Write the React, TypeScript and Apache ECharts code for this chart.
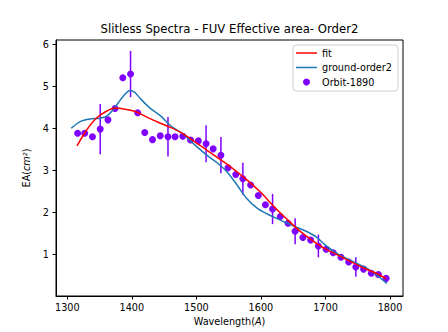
import React, { useEffect, useRef } from "react";
import * as echarts from "echarts";

const orbitX = [1316, 1327, 1339, 1351, 1363, 1374, 1386, 1398, 1409, 1420, 1432, 1444, 1456, 1467, 1479, 1491, 1503, 1515, 1526, 1538, 1549, 1561, 1572, 1584, 1596, 1607, 1618, 1630, 1642, 1653, 1665, 1677, 1689, 1701, 1712, 1724, 1736, 1747, 1759, 1771, 1782, 1794];
const orbitY = [3.88, 3.88, 3.80, 3.98, 4.20, 4.47, 5.20, 5.29, 4.37, 3.90, 3.73, 3.82, 3.80, 3.80, 3.81, 3.72, 3.70, 3.63, 3.51, 3.36, 3.06, 2.90, 2.80, 2.65, 2.40, 2.18, 2.08, 1.90, 1.74, 1.55, 1.40, 1.34, 1.20, 1.12, 1.04, 0.93, 0.82, 0.70, 0.65, 0.55, 0.52, 0.43];
const orbitErr = [0, 0, 0, 0.6, 0, 0, 0, 0.55, 0, 0, 0, 0, 0.47, 0, 0, 0, 0, 0.44, 0, 0.43, 0, 0, 0.38, 0, 0, 0, 0.36, 0, 0, 0.31, 0, 0, 0.27, 0, 0, 0, 0, 0.23, 0, 0, 0, 0];

const fitX = [1315, 1330, 1345, 1360, 1375, 1390, 1405, 1420, 1440, 1460, 1480, 1505, 1530, 1555, 1580, 1600, 1620, 1640, 1660, 1680, 1700, 1720, 1740, 1760, 1780, 1794];
const fitY = [3.58, 3.96, 4.24, 4.40, 4.48, 4.45, 4.40, 4.29, 4.15, 4.02, 3.86, 3.60, 3.33, 3.06, 2.75, 2.47, 2.14, 1.84, 1.56, 1.33, 1.13, 0.98, 0.82, 0.67, 0.54, 0.42];

const groundX = [1306, 1320, 1335, 1351, 1361, 1371, 1382, 1390, 1397, 1405, 1413, 1428, 1444, 1460, 1480, 1495, 1516, 1532, 1547, 1563, 1578, 1594, 1610, 1625, 1641, 1656, 1670, 1685, 1700, 1715, 1730, 1745, 1760, 1775, 1795];
const groundY = [4.00, 4.16, 4.22, 4.24, 4.29, 4.44, 4.67, 4.82, 4.90, 4.85, 4.71, 4.48, 4.30, 4.06, 3.86, 3.64, 3.36, 3.18, 2.97, 2.65, 2.33, 2.10, 1.96, 1.85, 1.74, 1.64, 1.55, 1.42, 1.22, 1.05, 0.92, 0.81, 0.70, 0.56, 0.31];

const xTicks = [1300, 1400, 1500, 1600, 1700, 1800];
const yTicks = [1, 2, 3, 4, 5, 6];

const FONT = "DejaVu Sans";
const PURPLE = "#7f00ff";
const LINE_ICON = "path://M0,0L42,0L42,3L0,3Z";

export default function App() {
  const ref = useRef<HTMLDivElement>(null);
  useEffect(() => {
    if (!ref.current) return;
    const chart = echarts.init(ref.current, undefined, { renderer: "svg" });
    const zip = (xs: number[], ys: number[]) => xs.map((x, i) => [x, ys[i]]);
    chart.setOption({
      animation: false,
      title: {
        text: "Slitless Spectra - FUV Effective area- Order2",
        left: 229.5,
        top: 23,
        padding: 0,
        textAlign: "center",
        textStyle: { fontFamily: FONT, fontSize: 11.7, fontWeight: "normal", color: "#000" },
      },
      legend: {
        orient: "vertical",
        left: 293,
        top: 45,
        padding: [2, 6, 3, 3],
        itemGap: 2.5,
        itemWidth: 21,
        itemHeight: 7,
        borderColor: "#d0d0d0",
        borderWidth: 1,
        borderRadius: 3,
        backgroundColor: "#fff",
        textStyle: { fontFamily: FONT, fontSize: 9.7, color: "#000", lineHeight: 12 },
        data: [
          { name: "fit", icon: LINE_ICON },
          { name: "ground-order2", icon: LINE_ICON },
          { name: "Orbit-1890", icon: "circle" },
        ],
      },
      grid: {
        left: 56,
        right: 45,
        top: 40,
        bottom: 36,
        show: true,
        borderColor: "#000",
        borderWidth: 1,
        backgroundColor: "transparent",
      },
      xAxis: {
        type: "value",
        min: 1282.5,
        max: 1820.1,
        name: "{n|Wavelength(}{i|A}{n|)}",
        nameLocation: "middle",
        nameGap: 19,
        nameTextStyle: {
          rich: {
            n: { fontFamily: FONT, fontSize: 9.7, color: "#000" },
            i: { fontFamily: FONT, fontSize: 9.7, color: "#000", fontStyle: "italic" },
          },
        },
        axisLine: { show: true, onZero: false, lineStyle: { color: "#000", width: 1 } },
        axisTick: { show: true, length: 3.5, lineStyle: { color: "#000" }, customValues: xTicks },
        axisLabel: {
          margin: 6,
          fontFamily: FONT,
          fontSize: 9.7,
          color: "#000",
          customValues: xTicks,
          formatter: (v: number) => String(Math.round(v)),
        },
        splitLine: { show: false },
      },
      yAxis: {
        type: "value",
        min: 0.01,
        max: 6.1,
        name: "{n|EA(}{i|cm²}{n|)}",
        nameLocation: "middle",
        nameGap: 20,
        nameTextStyle: {
          rich: {
            n: { fontFamily: FONT, fontSize: 9.7, color: "#000" },
            i: { fontFamily: FONT, fontSize: 9.7, color: "#000", fontStyle: "italic" },
          },
        },
        axisLine: { show: true, onZero: false, lineStyle: { color: "#000", width: 1 } },
        axisTick: { show: true, length: 3.5, lineStyle: { color: "#000" }, customValues: yTicks },
        axisLabel: {
          margin: 7,
          fontFamily: FONT,
          fontSize: 9.7,
          color: "#000",
          customValues: yTicks,
          formatter: (v: number) => String(Math.round(v)),
        },
        splitLine: { show: false },
      },
      series: [
        {
          name: "fit",
          type: "line",
          data: zip(fitX, fitY),
          smooth: 0.3,
          symbol: "none",
          lineStyle: { color: "#ff0000", width: 1.5 },
          itemStyle: { color: "#ff0000" },
          z: 4,
        },
        {
          name: "ground-order2",
          type: "line",
          data: zip(groundX, groundY),
          smooth: 0.3,
          symbol: "none",
          lineStyle: { color: "#1f77b4", width: 1.5 },
          itemStyle: { color: "#1f77b4" },
          z: 3,
        },
        {
          name: "Orbit-1890",
          type: "scatter",
          data: zip(orbitX, orbitY),
          symbol: "circle",
          symbolSize: 7,
          itemStyle: { color: PURPLE, opacity: 1 },
          z: 2,
        },
        {
          name: "errbars",
          type: "custom",
          data: orbitX.map((x, i) => [x, orbitY[i], orbitErr[i]]),
          renderItem: (params: any, api: any) => {
            const x = api.value(0);
            const y = api.value(1);
            const e = api.value(2);
            if (!e) return null;
            const p1 = api.coord([x, y - e]);
            const p2 = api.coord([x, y + e]);
            return {
              type: "line",
              shape: { x1: p1[0], y1: p1[1], x2: p2[0], y2: p2[1] },
              style: { stroke: PURPLE, lineWidth: 1.5 },
            };
          },
          z: 2,
        },
      ],
    });
    return () => chart.dispose();
  }, []);
  return (
    <div
      ref={ref}
      style={{ position: "fixed", left: 0, top: 0, width: 448, height: 332, background: "#fff" }}
    />
  );
}
